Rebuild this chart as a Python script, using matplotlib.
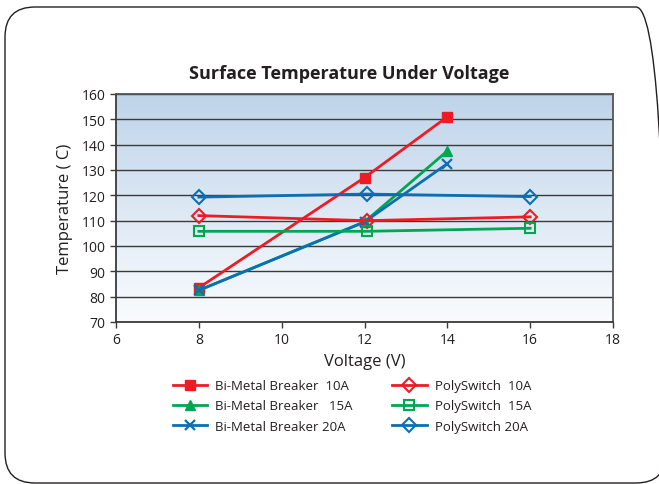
import numpy as np
import matplotlib
matplotlib.use("Agg")
import matplotlib.pyplot as plt
from matplotlib.patches import FancyBboxPatch

plt.rcParams["font.family"] = ["Open Sans", "DejaVu Sans"]

# data
bm_v = [8, 12, 14]
bm10 = [83.5, 127, 151]
bm15 = [82.5, 109.5, 137.5]
bm20 = [82.5, 109.5, 132.5]

ps_v = [8, 12.05, 16]
ps10 = [112, 110, 111.5]
ps15 = [105.8, 105.8, 107]
ps20 = [119.3, 120.5, 119.5]

labels = ["Bi-Metal Breaker  10A", "Bi-Metal Breaker   15A", "Bi-Metal Breaker 20A",
          "PolySwitch  10A", "PolySwitch  15A", "PolySwitch 20A"]

red = "#ed1c24"
green = "#00a651"
blue = "#0a6fb4"
txt = "#231f20"

fig = plt.figure(figsize=(6.59, 4.85), dpi=100)

# rounded frame around everything (inches), right side runs off the picture
box = FancyBboxPatch((0.05, 0.01), 6.61, 4.76,
                     boxstyle="round,pad=0,rounding_size=0.3",
                     transform=fig.dpi_scale_trans, fill=False, ec="#231f20", lw=1.0)
fig.patches.append(box)

ax = fig.add_axes([116 / 659, 1 - 323 / 485, 497 / 659, 228 / 485])

# gradient background
grad = np.linspace(0, 1, 256).reshape(-1, 1)
cmap = matplotlib.colors.LinearSegmentedColormap.from_list("bg", ["#fafcfe", "#bfd4ea"])
ax.imshow(grad, extent=[6, 18, 70, 160], origin="lower", aspect="auto", cmap=cmap, zorder=0)

ax.set_xlim(6, 18)
ax.set_ylim(70, 160)
ax.set_xticks(range(6, 19, 2))
ax.set_yticks(range(70, 161, 10))
ax.grid(axis="y", color="#3a3a3a", lw=1.0, zorder=1)
ax.set_axisbelow(True)

ms = 7
ax.plot(bm_v, bm10, color=red, lw=2, marker="s", ms=ms, zorder=3, label=labels[0])
ax.plot(bm_v, bm15, color=green, lw=2, marker="^", ms=ms, zorder=3, label=labels[1])
ax.plot(bm_v, bm20, color=blue, lw=2, marker="x", ms=ms, mew=1.6, zorder=3, label=labels[2])
ax.plot(ps_v, ps10, color=red, lw=2, marker="D", ms=ms, mfc="none", mew=1.5, zorder=3, label=labels[3])
ax.plot(ps_v, ps15, color=green, lw=2, marker="s", ms=ms, mfc="none", mew=1.5, zorder=3, label=labels[4])
ax.plot(ps_v, ps20, color=blue, lw=2, marker="D", ms=ms, mfc="none", mew=1.5, zorder=3, label=labels[5])

for s in ["left", "bottom"]:
    ax.spines[s].set_color("#3a3a3a")
    ax.spines[s].set_linewidth(1.3)
for s in ["top", "right"]:
    ax.spines[s].set_color("#555555")
    ax.spines[s].set_linewidth(1.3)

ax.tick_params(axis="both", colors="#3a3a3a", labelcolor=txt, labelsize=10, length=4, width=1)

fig.text(349 / 659, 1 - 74 / 485, "Surface Temperature Under Voltage", fontsize=13,
         fontweight="bold", color=txt, ha="center", va="center")
ax.set_xlabel("Voltage (V)", fontsize=12, color=txt, labelpad=4)
ax.set_ylabel("Temperature ( C)", fontsize=12, color=txt, labelpad=6)

leg = fig.legend(loc="center", bbox_to_anchor=(352 / 659, 1 - 407 / 485), ncol=2, frameon=False,
                 fontsize=9.5, columnspacing=3.0, handlelength=2.6, labelspacing=0.55,
                 handletextpad=0.6)
for t in leg.get_texts():
    t.set_color(txt)

fig.savefig("out.png", dpi=100)
